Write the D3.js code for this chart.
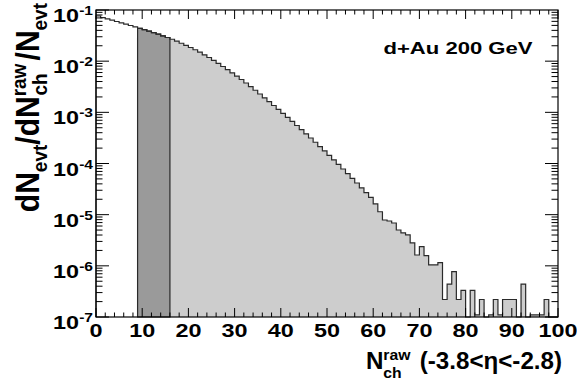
<!DOCTYPE html>
<html>
<head>
<meta charset="utf-8">
<script src="https://cdnjs.cloudflare.com/ajax/libs/d3/7.8.5/d3.min.js"></script>
<style>
	body { margin: 0; background: #fff; }
	text { font-family: "Liberation Sans", Arial, sans-serif; font-weight: bold; fill: #000; }
</style>
</head>
<body>
<svg id="svg1" width="577" height="384"></svg>
<script>
// bin lower edges (width 1) and normalized counts
var binLow = d3.range(0, 100);
var counts = [
	0.0763, 0.0710, 0.0670, 0.0632, 0.0596, 0.0562, 0.0530, 0.0498, 0.0467, 0.0439,
	0.0412, 0.0385, 0.0360, 0.0337, 0.0313, 0.0290, 0.0268, 0.0246, 0.0224, 0.0204,
	0.0185, 0.0167, 0.0150, 0.0133, 0.0118, 0.0104, 0.00905, 0.00787, 0.00684, 0.00593,
	0.00511, 0.00438, 0.00374, 0.00318, 0.00270, 0.00228, 0.00192, 0.00162, 0.00136, 0.00114,
	9.53e-4, 7.96e-4, 6.65e-4, 5.53e-4, 4.60e-4, 3.81e-4, 3.15e-4, 2.60e-4, 2.14e-4, 1.76e-4,
	1.44e-4, 1.18e-4, 9.61e-5, 7.81e-5, 6.35e-5, 5.14e-5, 4.16e-5, 3.35e-5, 2.70e-5, 2.17e-5,
	1.62e-5, 1.14e-5, 7.87e-6, 7.52e-6, 6.88e-6, 5.02e-6, 4.39e-6, 4.01e-6, 2.80e-6, 1.63e-6,
	2.37e-6, 1.59e-6, 1.04e-6, 1.04e-6, 1.16e-6, 2.2e-7, 4.4e-7, 7.7e-7, 2.2e-7, 3.3e-7,
	0, 3.3e-7, 1.1e-7, 2.2e-7, 0, 1.1e-7, 2.2e-7, 1.1e-7, 2.2e-7, 2.2e-7,
	2.2e-7, 0, 4.4e-7, 0, 1.1e-7, 1.1e-7, 1.1e-7, 2.2e-7, 0, 0
];
// selected multiplicity window (dark band), light fill above it
var selRange = [9, 16];

var xTicks = [0, 10, 20, 30, 40, 50, 60, 70, 80, 90, 100];
var yExponents = [-1, -2, -3, -4, -5, -6, -7];
var label = "d+Au 200 GeV";

var draw_chart = function()
{
	var svg = d3.select("#svg1");
	var margin = {top: 10, right: 19, bottom: 67, left: 96},
		width = 577 - margin.left - margin.right,
		height = 384 - margin.top - margin.bottom;
	var sx = 1.3;   // text in the original is stretched sideways

	var x = d3.scaleLinear().domain([0, 100]).range([margin.left, margin.left + width]);
	var y = d3.scaleLog().domain([1e-7, 1e-1]).range([margin.top + height, margin.top]).clamp(true);
	var bottom = y(1e-7);

	var yv = function(v) { return v > 0 ? y(v) : bottom; };

	// step outline for a range of bins
	var stepPath = function(lo, hi, closed)
	{
		var p = "M" + x(lo) + "," + bottom;
		for(var i = lo; i < hi; i++)
		{
			p += "L" + x(binLow[i]) + "," + yv(counts[i]);
			p += "L" + x(binLow[i] + 1) + "," + yv(counts[i]);
		}
		p += "L" + x(hi) + "," + bottom;
		if(closed) p += "Z";
		return p;
	}

	svg.append("path")
		.attr("d", stepPath(selRange[1], 100, true))
		.attr("fill", "#cdcdcd")
		.attr("stroke", "none");

	svg.append("path")
		.attr("d", stepPath(selRange[0], selRange[1], true))
		.attr("fill", "#9a9a9a")
		.attr("stroke", "#2a2a2a")
		.attr("stroke-width", 1.2);

	svg.append("path")
		.attr("d", stepPath(0, 100, false))
		.attr("fill", "none")
		.attr("stroke", "#2a2a2a")
		.attr("stroke-width", 1.2);

	// frame
	svg.append("rect")
		.attr("x", margin.left)
		.attr("y", margin.top)
		.attr("width", width)
		.attr("height", height)
		.attr("fill", "none")
		.attr("stroke", "#000")
		.attr("stroke-width", 1.2);

	var ticks = svg.append("g").attr("stroke", "#000").attr("stroke-width", 1);

	// x ticks, bottom and top
	for(var t = 0; t <= 100; t += 2)
	{
		var len = (t % 10 == 0) ? 9 : 4.5;
		ticks.append("line").attr("x1", x(t)).attr("x2", x(t)).attr("y1", bottom).attr("y2", bottom - len);
		ticks.append("line").attr("x1", x(t)).attr("x2", x(t)).attr("y1", margin.top).attr("y2", margin.top + len);
	}

	// y ticks, left and right (log)
	yExponents.forEach(function(e)
	{
		for(var m = 1; m <= 9; m++)
		{
			var v = m * Math.pow(10, e - 1);
			if(v < 1e-7 * 0.999 || v > 1e-1 * 1.001) continue;
			var len = (m == 1) ? 13 : 6.5;
			ticks.append("line").attr("x1", x(0)).attr("x2", x(0) + len).attr("y1", y(v)).attr("y2", y(v));
			ticks.append("line").attr("x1", x(100)).attr("x2", x(100) - len).attr("y1", y(v)).attr("y2", y(v));
		}
	});
	ticks.append("line").attr("x1", x(0)).attr("x2", x(0) + 13).attr("y1", y(1e-1)).attr("y2", y(1e-1));

	// x tick labels
	svg.selectAll(".xlab")
		.data(xTicks)
		.enter().append("text")
		.attr("class", "xlab")
		.attr("transform", function(d) { return "translate(" + x(d) + "," + (bottom + 20) + ") scale(" + sx + ",1)"; })
		.attr("text-anchor", "middle")
		.style("font-size", "18px")
		.text(function(d) { return d; });

	// y tick labels 10^n
	var ylab = svg.selectAll(".ylab")
		.data(yExponents)
		.enter().append("text")
		.attr("class", "ylab")
		.attr("transform", function(d) { return "translate(93," + (y(Math.pow(10, d)) + 12) + ") scale(" + sx + ",1)"; })
		.attr("text-anchor", "end")
		.style("font-size", "18px");
	ylab.append("tspan").text("10");
	ylab.append("tspan")
		.attr("dy", -7)
		.style("font-size", "12px")
		.text(function(d) { return d; });

	// label in the plot
	svg.append("text")
		.attr("transform", "translate(458,54) scale(" + sx + ",1)")
		.attr("text-anchor", "middle")
		.style("font-size", "17px")
		.text(label);

	// x title
	var xt = svg.append("text")
		.attr("transform", "translate(562,369) scale(1.05,1)")
		.attr("text-anchor", "end")
		.style("font-size", "23px");
	xt.append("tspan").text("N");
	xt.append("tspan").attr("dy", -9).style("font-size", "15px").text("raw");
	xt.append("tspan").attr("dx", -26).attr("dy", 18).style("font-size", "15px").text("ch");
	xt.append("tspan").attr("dx", 11).attr("dy", -9).text(" (-3.8<\u03b7<-2.8)");

	// y title
	var yt = svg.append("text")
		.attr("transform", "translate(39,3) scale(1.08,1) rotate(-90)")
		.attr("text-anchor", "end")
		.style("font-size", "30px");
	yt.append("tspan").text("dN");
	yt.append("tspan").attr("dy", 7).style("font-size", "19px").text("evt");
	yt.append("tspan").attr("dy", -7).text("/dN");
	yt.append("tspan").attr("dy", -12).style("font-size", "19px").text("raw");
	yt.append("tspan").attr("dx", -32).attr("dy", 19).style("font-size", "19px").text("ch");
	yt.append("tspan").attr("dx", 13).attr("dy", -7).text("/N");
	yt.append("tspan").attr("dy", 7).style("font-size", "19px").text("evt");
}

draw_chart();
</script>
</body>
</html>
